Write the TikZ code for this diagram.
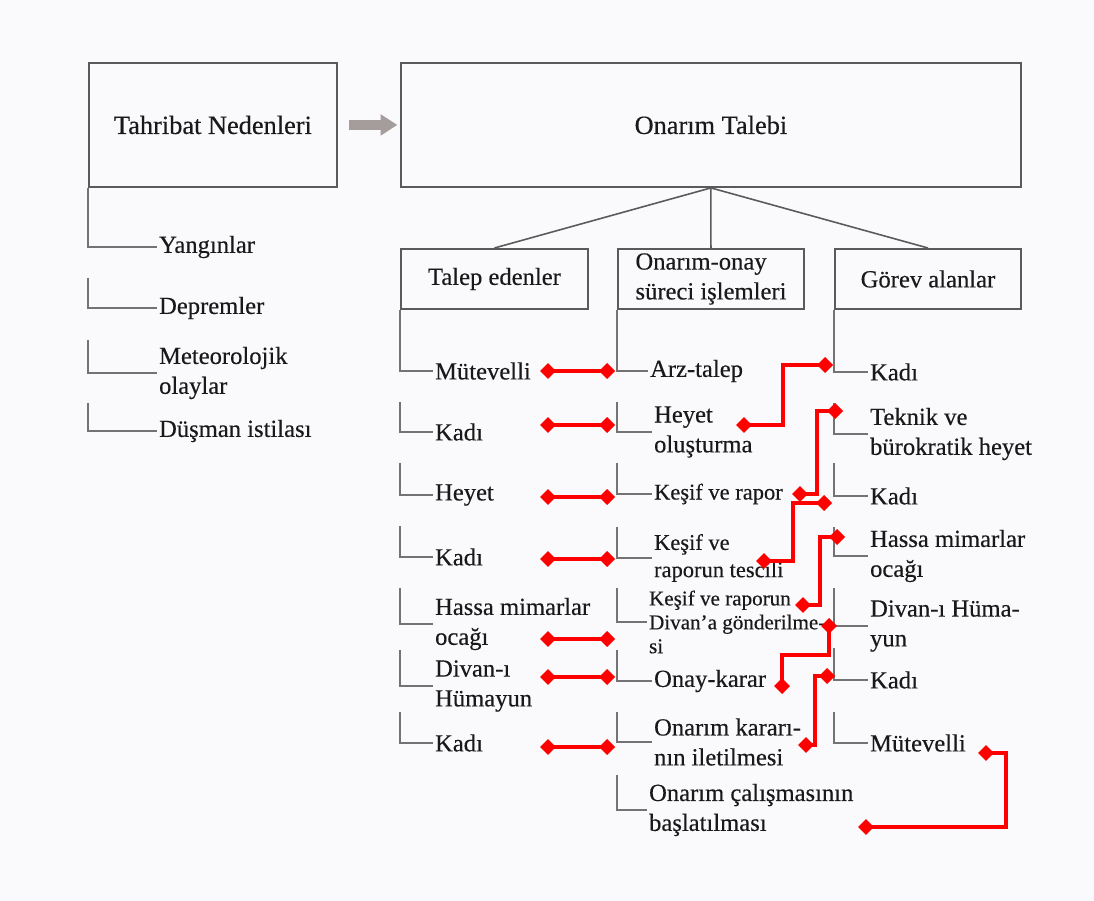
\documentclass[tikz,border=0pt]{standalone}
\usepackage{fontspec}
\setmainfont{Liberation Serif}[FakeBold=0.35]
\usetikzlibrary{arrows.meta}
\definecolor{framegray}{RGB}{90,90,90}
\definecolor{brackgray}{RGB}{115,115,115}
\definecolor{arrgray}{RGB}{165,156,156}
\definecolor{bgpaper}{RGB}{250,250,252}
\definecolor{linkred}{RGB}{255,0,0}
\tikzset{
  block/.style={
    draw=framegray,
    line width=1.1pt,
    rectangle,
    anchor=north west,
    minimum height=2.48cm,
    align=center,
    font=\fontsize{15}{18}\selectfont
  },
  subblock/.style={
    draw=framegray,
    line width=1.1pt,
    rectangle,
    anchor=north west,
    minimum height=1.2cm,
    minimum width=3.72cm,
    align=left,
    inner sep=2pt
  },
  item/.style={anchor=west, inner xsep=1pt, inner ysep=0pt, align=left},
  small/.style={font=\fontsize{12.8}{15.5}\selectfont},
  smaller/.style={font=\fontsize{12}{13.6}\selectfont},
  branch/.style={draw=brackgray, line width=0.9pt},
  fat/.style={draw=arrgray, line width=6pt, -{Triangle[length=9.5pt,width=11.5pt]},
    shorten <=6.5pt, shorten >=1.5pt},
  link/.style={draw=linkred, line width=2pt,
    {Diamond[length=9pt,width=9pt]}-{Diamond[length=9pt,width=9pt]}}
}
\begin{document}
\begin{tikzpicture}[x=0.02cm, y=-0.02cm, font=\fontsize{14}{17}\selectfont, text=black!90]

\useasboundingbox[fill=bgpaper] (0,0) rectangle (1094,901);

% top boxes
\node[block, minimum width=4.96cm] (tn) at (88,62) {Tahribat Nedenleri};
\node[block, minimum width=12.4cm] (ot) at (400,62) {Onarım Talebi};
\draw[fat] (tn.east) -- (ot.west);

% second row
\node[subblock, align=center, minimum width=3.74cm] (te) at (400,248) {Talep edenler};
\node[subblock] (oo) at (617,248) {Onarım-onay\\süreci işlemleri};
\node[subblock, align=center] (ga) at (834,248) {Görev alanlar};
\draw[branch, draw=framegray] (ot.south) -- (te.north);
\draw[branch, draw=framegray] (ot.south) -- (oo.north);
\draw[branch, draw=framegray] (ot.south) -- (ga.north);

% tahribat nedenleri
\node[item] (yang) at (157,247) {Yangınlar};
\node[item] (dep) at (157,308) {Depremler};
\node[item] (met) at (157,373) {Meteorolojik\\olaylar};
\node[item] (dus) at (157,431) {Düşman istilası};
\draw[branch] (tn.south west) |- (yang.west);
\draw[branch] (88,278) |- (dep.west);
\draw[branch] (88,340) |- (met.west);
\draw[branch] (88,403) |- (dus.west);

% talep edenler
\node[item] (t1) at (433,371) {Mütevelli};
\node[item] (t2) at (433,432) {Kadı};
\node[item] (t3) at (433,495) {Heyet};
\node[item] (t4) at (433,557) {Kadı};
\node[item] (t5) at (433,624) {Hassa mimarlar\\ocağı};
\node[item] (t6) at (433,686) {Divan-ı\\Hümayun};
\node[item] (t7) at (433,743) {Kadı};
\draw[branch] (te.south west) |- (t1.west);
\draw[branch] (400,402) |- (t2.west);
\draw[branch] (400,463) |- (t3.west);
\draw[branch] (400,526) |- (t4.west);
\draw[branch] (400,588) |- (t5.west);
\draw[branch] (400,650) |- (t6.west);
\draw[branch] (400,712) |- (t7.west);

% onarim-onay sureci
\node[item] (o1) at (648,371) {Arz-talep};
\node[item] (o2) at (652,432) {Heyet\\oluşturma};
\node[item, small] (o3) at (652,494) {Keşif ve rapor};
\node[item, small] (o4) at (652,558) {Keşif ve\\raporun tescili};
\node[item, smaller] (o5) at (647,622) {Keşif ve raporun\\Divan'a gönderilme-\\si};
\node[item] (o6) at (652,681) {Onay-karar};
\node[item] (o7) at (652,742) {Onarım kararı-\\nın iletilmesi};
\node[item] (o8) at (647,810) {Onarım çalışmasının\\başlatılması};
\draw[branch] (oo.south west) |- (o1.west);
\draw[branch] (617,402) |- (o2.west);
\draw[branch] (617,463) |- (o3.west);
\draw[branch] (617,527) |- (o4.west);
\draw[branch] (617,588) |- (o5.west);
\draw[branch] (617,650) |- (o6.west);
\draw[branch] (617,712) |- (o7.west);
\draw[branch] (617,775) |- (o8.west);

% gorev alanlar
\node[item] (g1) at (868,372) {Kadı};
\node[item] (g2) at (868,434) {Teknik ve\\bürokratik heyet};
\node[item] (g3) at (868,496) {Kadı};
\node[item] (g4) at (868,556) {Hassa mimarlar\\ocağı};
\node[item] (g5) at (868,626) {Divan-ı Hüma-\\yun};
\node[item] (g6) at (868,680) {Kadı};
\node[item] (g7) at (868,743) {Mütevelli};
\draw[branch] (ga.south west) |- (g1.west);
\draw[branch] (834,403) |- (g2.west);
\draw[branch] (834,463) |- (g3.west);
\draw[branch] (834,527) |- (g4.west);
\draw[branch] (834,588) |- (g5.west);
\draw[branch] (834,648) |- (g6.west);
\draw[branch] (834,712) |- (g7.west);

% red links
\foreach \y [count=\i] in {371,425,497,559,639,677,747}{
  \coordinate (la\i) at (540,\y);
  \coordinate (lb\i) at (615,\y);
  \draw[link] (la\i) -- (lb\i);
}
\coordinate (ra1) at (736,425); \coordinate (rb1) at (833,365);
\coordinate (ra2) at (792,494); \coordinate (rb2) at (843,411);
\coordinate (ra3) at (756,561); \coordinate (rb3) at (832,503);
\coordinate (ra4) at (845,537); \coordinate (rb4) at (795,605);
\coordinate (ra5) at (829,618); \coordinate (rb5) at (782,694);
\coordinate (ra6) at (835,676); \coordinate (rb6) at (798,745);
\coordinate (ra7) at (978,753); \coordinate (rb7) at (858,827);
\draw[link] (ra1) -- ++(47,0) |- (rb1);
\draw[link] (ra2) -- ++(25,0) |- (rb2);
\draw[link] (ra3) -- ++(37,0) |- (rb3);
\draw[link] (ra4) -- ++(-25,0) |- (rb4);
\draw[link] (ra5) -- ++(0,37) -| (rb5);
\draw[link] (ra6) -- ++(-20,0) |- (rb6);
\draw[link] (ra7) -- ++(28,0) |- (rb7);

\end{tikzpicture}
\end{document}
